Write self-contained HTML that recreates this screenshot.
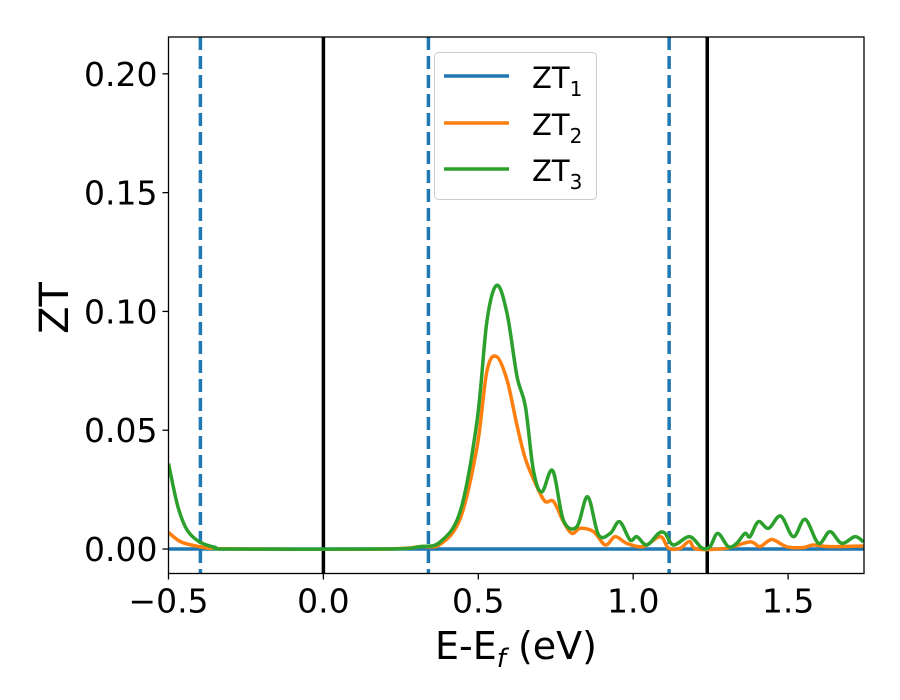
<!DOCTYPE html>
<html><head><meta charset="utf-8"><style>
html,body{margin:0;padding:0;background:#fff}
svg{display:block}
svg text{font-family:"DejaVu Sans","Liberation Sans",sans-serif;fill:#000}
</style></head><body>
<svg id="chart" width="900" height="700" xmlns="http://www.w3.org/2000/svg">
<text x="516" y="659" font-size="38" text-anchor="middle">E-E<tspan font-style="italic" font-size="26" dy="8">f</tspan><tspan dy="-8"> (eV)</tspan></text>
<text transform="translate(68,308) rotate(-90)" font-size="40" text-anchor="middle">ZT</text>
<g id="legend">
<rect x="434.5" y="52.5" width="162" height="147" rx="4" fill="#fff" stroke="#ccc" stroke-width="1"/>
<line x1="444" x2="509" y1="76" y2="76" stroke="#1f77b4" stroke-width="3.5"/>
<line x1="444" x2="509" y1="123" y2="123" stroke="#ff7f0e" stroke-width="3.5"/>
<line x1="444" x2="509" y1="169" y2="169" stroke="#2ca02c" stroke-width="3.5"/>
<text x="532" y="88" font-size="29">ZT<tspan font-size="20" dy="8">1</tspan></text>
<text x="532" y="135" font-size="29">ZT<tspan font-size="20" dy="8">2</tspan></text>
<text x="532" y="181" font-size="29">ZT<tspan font-size="20" dy="8">3</tspan></text>
</g>
</svg>
<script>
const xTicks=[-0.5,0.0,0.5,1.0,1.5];
const xTickLabels=["\u22120.5","0.0","0.5","1.0","1.5"];
const yTicks=[0,0.05,0.10,0.15,0.20];
const yTickLabels=["0.00","0.05","0.10","0.15","0.20"];
const dashedLinesX=[-0.397,0.339,1.116];
const solidLinesX=[0.0,1.239];
const zt1X=[-0.5,1.745];
const zt1Y=[0,0];
const zt2X=[-0.5,-0.46,-0.4,-0.35,-0.2,0.2,0.313,0.377,0.442,0.496,0.528,0.559,0.593,0.625,0.652,0.690,0.716,0.743,0.775,0.802,0.829,0.872,0.910,0.942,0.979,1.033,1.087,1.114,1.151,1.182,1.205,1.3,1.377,1.409,1.447,1.495,1.549,1.581,1.635,1.743];
const zt2Y=[0.007,0.003,0.001,0.0002,0,0,0.001,0.002,0.013,0.043,0.075,0.081,0.071,0.052,0.038,0.026,0.020,0.020,0.0115,0.0066,0.0087,0.0073,0.0017,0.0052,0.0024,0.001,0.0052,0.0004,0.0003,0.0032,0.0,0.0003,0.003,0.001,0.004,0.001,0.0006,0.0017,0.001,0.0013];
const zt3X=[-0.5,-0.47,-0.44,-0.4,-0.35,-0.3,0.2,0.313,0.377,0.442,0.496,0.528,0.560,0.593,0.625,0.652,0.678,0.705,0.740,0.775,0.818,0.853,0.888,0.926,0.956,0.990,1.012,1.044,1.082,1.103,1.130,1.182,1.222,1.248,1.273,1.307,1.334,1.361,1.377,1.404,1.437,1.476,1.517,1.555,1.598,1.635,1.673,1.716,1.743];
const zt3Y=[0.036,0.018,0.008,0.003,0.0007,0,0,0.001,0.003,0.016,0.054,0.096,0.111,0.099,0.0726,0.060,0.033,0.024,0.033,0.012,0.0094,0.022,0.006,0.0066,0.0115,0.0038,0.0052,0.0017,0.0066,0.0066,0.0017,0.0052,0.0004,0.001,0.0066,0.001,0.0024,0.0066,0.0052,0.0115,0.0087,0.0139,0.0052,0.0125,0.0024,0.0073,0.0024,0.0052,0.003];

const L=168.5,R=864,T=37,B=573.5;
const xMin=-0.5,xMax=1.745,yMin=-0.0103,yMax=0.2155;
const sx=v=>L+(v-xMin)/(xMax-xMin)*(R-L);
const sy=v=>B-(v-yMin)/(yMax-yMin)*(B-T);
const NS="http://www.w3.org/2000/svg";
const svg=document.getElementById('chart');
const legend=document.getElementById('legend');
function mk(tag,attrs,parent){const e=document.createElementNS(NS,tag);for(const k in attrs)e.setAttribute(k,attrs[k]);if(parent)parent.appendChild(e);else svg.insertBefore(e,legend);return e;}
const defs=mk('defs',{});
const cp=mk('clipPath',{id:'clip'},defs);mk('rect',{x:L,y:T,width:R-L,height:B-T},cp);
const g=mk('g',{'clip-path':'url(#clip)'});


function smoothPath(xs,ys){
  const p=xs.map((x,i)=>[sx(x),sy(ys[i])]);
  let d=`M${p[0][0]},${p[0][1]}`;
  for(let i=0;i<p.length-1;i++){
    const p0=p[Math.max(i-1,0)],p1=p[i],p2=p[i+1],p3=p[Math.min(i+2,p.length-1)];
    const c1=[p1[0]+(p2[0]-p0[0])/6,p1[1]+(p2[1]-p0[1])/6];
    const c2=[p2[0]-(p3[0]-p1[0])/6,p2[1]-(p3[1]-p1[1])/6];
    d+=`C${c1[0]},${c1[1]} ${c2[0]},${c2[1]} ${p2[0]},${p2[1]}`;
  }
  return d;
}
dashedLinesX.forEach(v=>{const l=mk('line',{x1:sx(v),x2:sx(v),y1:T,y2:B,stroke:'#1f77b4','stroke-width':3.5,'stroke-dasharray':'13 6'},g);

});
solidLinesX.forEach(v=>{const l=mk('line',{x1:sx(v),x2:sx(v),y1:T,y2:B,stroke:'#000','stroke-width':3.5},g);

});
const series=[[zt1X,zt1Y,'#1f77b4','zt1-line'],[zt2X,zt2Y,'#ff7f0e','zt2-line'],[zt3X,zt3Y,'#2ca02c','zt3-line']];
series.forEach(s=>{const p=mk('path',{d:smoothPath(s[0],s[1]),fill:'none',stroke:s[2],'stroke-width':3.5,'stroke-linejoin':'round'},g);

});
const frame=mk('rect',{x:L,y:T,width:R-L,height:B-T,fill:'none',stroke:'#000','stroke-width':1.3});


xTicks.forEach((v,i)=>{mk('line',{x1:sx(v),x2:sx(v),y1:B,y2:B+6,stroke:'#000','stroke-width':1.3});
const t=mk('text',{x:sx(v),y:B+39,'font-size':33,'text-anchor':'middle'});t.textContent=xTickLabels[i];

});
yTicks.forEach((v,i)=>{mk('line',{x1:L-6,x2:L,y1:sy(v),y2:sy(v),stroke:'#000','stroke-width':1.3});
const t=mk('text',{x:L-11,y:sy(v)+12,'font-size':33,'text-anchor':'end'});t.textContent=yTickLabels[i];

});
</script>
</body></html>
